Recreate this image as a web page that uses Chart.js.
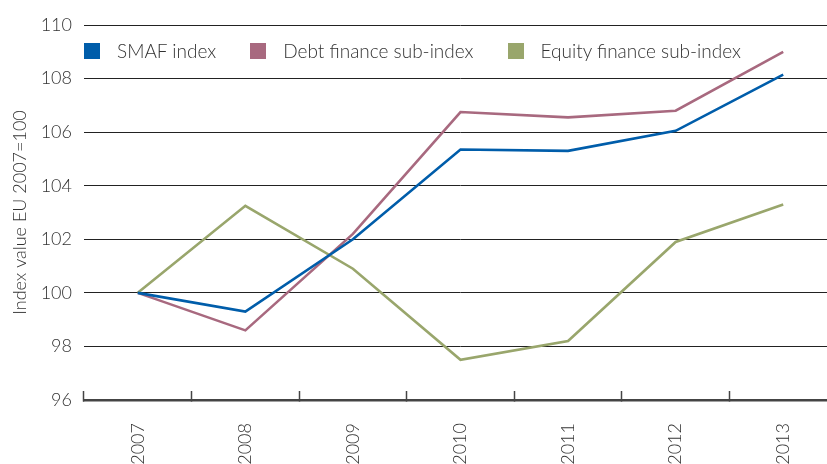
<!DOCTYPE html>
<html>
<head>
<meta charset="utf-8">
<title>SMAF index</title>
<script src="https://cdn.jsdelivr.net/npm/chart.js@4.4.1/dist/chart.umd.min.js"></script>
<style>
    html, body { margin: 0; padding: 0; background: #fff; overflow: hidden; }
    #wrap { position: relative; width: 827px; height: 464px; overflow: hidden; }
    #chart { position: absolute; left: 0; top: 0; }
    #legend {
        position: absolute; left: 84px; top: 39px;
        display: flex; align-items: center;
        font-family: Lato, "Open Sans", sans-serif; font-weight: 300;
        font-size: 19px; color: #333;
    }
    #legend .item { display: flex; align-items: center; margin-right: 34px; }
    #legend .box { width: 16px; height: 16px; margin-right: 17px; }
</style>
</head>
<body>
<div id="wrap">
    <canvas id="chart" width="837" height="464"></canvas>
    <div id="legend"></div>
</div>
<script>
// Datos del gráfico
const years = ['2007', '2008', '2009', '2010', '2011', '2012', '2013'];
const smafIndex = [100, 99.3, 102.0, 105.35, 105.3, 106.05, 108.15];
const debtIndex = [100, 98.6, 102.2, 106.75, 106.55, 106.8, 109.0];
const equityIndex = [100, 103.25, 100.9, 97.5, 98.2, 101.9, 103.3];
const seriesNames = ['SMAF index', 'Debt finance sub-index', 'Equity finance sub-index'];
const seriesColors = ['#005DAA', '#A8697F', '#99A66C'];
const yTicks = [96, 98, 100, 102, 104, 106, 108, 110];

document.addEventListener('DOMContentLoaded', function () {
    const ctx = document.getElementById('chart');
    const fontFamily = 'Lato, "Open Sans", sans-serif';
    const textColor = '#333';

    const seriesData = [smafIndex, debtIndex, equityIndex];
    const datasets = seriesData.map(function (values, i) {
        return {
            label: seriesNames[i],
            data: values,
            borderColor: seriesColors[i],
            backgroundColor: seriesColors[i],
            borderWidth: 2.6,
            pointRadius: 0,
            tension: 0,
            fill: false
        };
    });

    new Chart(ctx, {
        type: 'line',
        data: { labels: years, datasets: datasets },
        options: {
            responsive: false,
            animation: false,
            devicePixelRatio: 1,
            layout: { padding: { top: 25, right: 0, bottom: 0, left: 0 } },
            plugins: {
                legend: { display: false },
                tooltip: { enabled: false }
            },
            scales: {
                x: {
                    type: 'category',
                    offset: true,
                    grid: {
                        offset: true,
                        drawOnChartArea: false,
                        drawTicks: true,
                        tickLength: -9,   // marcas hacia arriba, dentro del área
                        tickColor: '#444',
                        tickWidth: 1.5
                    },
                    border: { display: true, color: '#444', width: 2.6 },
                    ticks: {
                        color: textColor,
                        font: { family: fontFamily, size: 18, weight: '300' },
                        minRotation: 90,
                        maxRotation: 90,
                        padding: 32,
                        autoSkip: false
                    },
                    afterFit: function (scale) { scale.height = 64; }
                },
                y: {
                    min: yTicks[0],
                    max: yTicks[yTicks.length - 1],
                    afterBuildTicks: function (scale) {
                        scale.ticks = yTicks.map(function (v) { return { value: v }; });
                    },
                    grid: { color: '#222', lineWidth: 1, drawTicks: false },
                    border: { display: false },
                    ticks: {
                        color: textColor,
                        font: { family: fontFamily, size: 18, weight: '300' },
                        padding: 12
                    },
                    title: {
                        display: true,
                        text: 'Index value EU 2007=100',
                        color: textColor,
                        font: { family: fontFamily, size: 18, weight: '300' },
                        padding: { top: 9, bottom: 0 }
                    },
                    afterFit: function (scale) { scale.width = 84; }
                }
            }
        }
    });

    // Leyenda
    const legend = document.getElementById('legend');
    seriesNames.forEach(function (name, i) {
        const item = document.createElement('div');
        item.className = 'item';
        const box = document.createElement('span');
        box.className = 'box';
        box.style.background = seriesColors[i];
        const label = document.createElement('span');
        label.textContent = name;
        item.appendChild(box);
        item.appendChild(label);
        legend.appendChild(item);
    });
});
</script>
</body>
</html>
